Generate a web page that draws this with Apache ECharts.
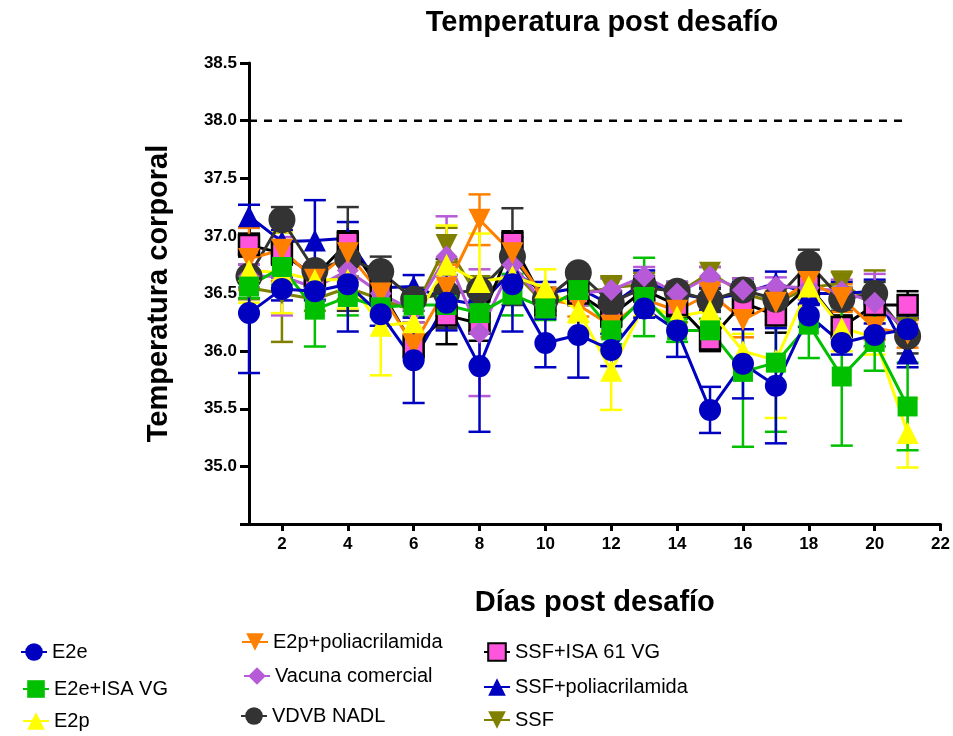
<!DOCTYPE html>
<html>
<head>
<meta charset="utf-8">
<script src="https://cdn.jsdelivr.net/npm/echarts@6/dist/echarts.min.js"></script>
<style>
  html, body { margin: 0; padding: 0; background: #fff; }
  #chart { width: 953px; height: 736px; }
</style>
</head>
<body>
<div id="chart"></div>
<script>
// días post desafío
const days = [1, 2, 3, 4, 5, 6, 7, 8, 9, 10, 11, 12, 13, 14, 15, 16, 17, 18, 19, 20, 21]
const xTicks = [2, 4, 6, 8, 10, 12, 14, 16, 18, 20, 22]

// medias por grupo
const e2e = [36.33, 36.54, 36.52, 36.58, 36.32, 35.92, 36.42, 35.87, 36.58, 36.07, 36.14, 36.01, 36.37, 36.18, 35.49, 35.89, 35.70, 36.31, 36.07, 36.14, 36.19]
const e2eIsa = [36.56, 36.73, 36.36, 36.47, 36.38, 36.40, 36.40, 36.33, 36.49, 36.37, 36.53, 36.18, 36.47, 36.18, 36.18, 35.82, 35.90, 36.23, 35.78, 36.08, 35.52]
const e2p = [36.70, 36.68, 36.62, 36.62, 36.22, 36.25, 36.75, 36.60, 36.65, 36.55, 36.35, 35.83, 36.40, 36.30, 36.35, 36.00, 35.92, 36.56, 36.20, 36.12, 35.29]
const e2pPol = [36.80, 36.88, 36.62, 36.85, 36.50, 36.05, 36.55, 37.14, 36.85, 36.45, 36.40, 36.22, 36.45, 36.35, 36.50, 36.27, 36.42, 36.60, 36.46, 36.20, 36.15]
const vacuna = [36.65, 36.65, 36.55, 36.70, 36.50, 36.35, 36.82, 36.16, 36.75, 36.40, 36.50, 36.53, 36.65, 36.50, 36.65, 36.53, 36.56, 36.55, 36.52, 36.42, 36.18]
const vdvb = [36.65, 37.14, 36.70, 36.80, 36.69, 36.45, 36.50, 36.53, 36.82, 36.45, 36.68, 36.42, 36.55, 36.52, 36.44, 36.53, 36.45, 36.76, 36.45, 36.50, 36.13]
const ssfIsa = [36.92, 36.85, 36.65, 36.94, 36.53, 36.04, 36.31, 36.24, 36.94, 36.40, 36.50, 36.31, 36.53, 36.40, 36.10, 36.42, 36.31, 36.57, 36.21, 36.40, 36.40]
const ssfPol = [37.17, 36.95, 36.96, 36.98, 36.55, 36.56, 36.45, 36.40, 36.70, 36.50, 36.55, 36.40, 36.60, 36.50, 36.45, 36.50, 36.59, 36.50, 36.50, 36.52, 35.98]
const ssf = [36.55, 36.50, 36.45, 36.55, 36.45, 36.35, 36.92, 36.45, 36.70, 36.40, 36.50, 36.55, 36.58, 36.50, 36.68, 36.50, 36.42, 36.55, 36.59, 36.40, 36.20]

// error (EEM) por grupo
const e2eErr = [0.52, 0.10, 0.08, 0.41, 0.10, 0.37, 0.24, 0.57, 0.41, 0.21, 0.37, 0.14, 0.08, 0.23, 0.20, 0.30, 0.50, 0.10, 0.10, 0.10, 0.10]
const e2eIsaErr = [0.10, 0.15, 0.32, 0.16, 0.08, 0.10, 0.10, 0.15, 0.18, 0.10, 0.08, 0.12, 0.34, 0.10, 0.10, 0.65, 0.60, 0.29, 0.60, 0.25, 0.38]
const e2pErr = [0.28, 0.35, 0.10, 0.25, 0.43, 0.15, 0.34, 0.42, 0.10, 0.16, 0.10, 0.34, 0.10, 0.12, 0.10, 0.15, 0.50, 0.10, 0.20, 0.15, 0.30]
const e2pPolErr = [0.27, 0.27, 0.08, 0.10, 0.10, 0.10, 0.20, 0.22, 0.10, 0.10, 0.10, 0.10, 0.08, 0.10, 0.10, 0.15, 0.10, 0.10, 0.12, 0.10, 0.12]
const vacunaErr = [0.10, 0.34, 0.10, 0.10, 0.10, 0.10, 0.35, 0.55, 0.10, 0.10, 0.10, 0.10, 0.08, 0.10, 0.08, 0.10, 0.08, 0.10, 0.10, 0.25, 0.10]
const vdvbErr = [0.10, 0.11, 0.05, 0.45, 0.13, 0.10, 0.30, 0.10, 0.42, 0.10, 0.05, 0.10, 0.10, 0.05, 0.10, 0.10, 0.10, 0.12, 0.10, 0.10, 0.15]
const ssfIsaErr = [0.10, 0.10, 0.10, 0.10, 0.10, 0.10, 0.25, 0.15, 0.10, 0.10, 0.10, 0.10, 0.10, 0.10, 0.10, 0.10, 0.15, 0.10, 0.10, 0.10, 0.12]
const ssfPolErr = [0.10, 0.10, 0.35, 0.14, 0.10, 0.10, 0.10, 0.10, 0.10, 0.10, 0.10, 0.10, 0.10, 0.10, 0.10, 0.10, 0.10, 0.10, 0.10, 0.10, 0.12]
const ssfErr = [0.10, 0.42, 0.10, 0.10, 0.10, 0.10, 0.15, 0.20, 0.10, 0.10, 0.10, 0.10, 0.10, 0.10, 0.05, 0.10, 0.10, 0.10, 0.10, 0.30, 0.10]

const refLine = 38.0

const groups = [
  { name: 'E2e', mean: e2e, err: e2eErr, color: '#0000c0', symbol: 'circle', size: 22 },
  { name: 'E2e+ISA VG', mean: e2eIsa, err: e2eIsaErr, color: '#00c000', symbol: 'rect', size: 20 },
  { name: 'E2p', mean: e2p, err: e2pErr, color: '#ffff00', symbol: 'triangle', size: 22 },
  { name: 'E2p+poliacrilamida', mean: e2pPol, err: e2pPolErr, color: '#ff8000', symbol: 'triangle', size: 22, rotate: 180 },
  { name: 'Vacuna comercial', mean: vacuna, err: vacunaErr, color: '#b65ad8', symbol: 'diamond', size: 22 },
  { name: 'VDVB NADL', mean: vdvb, err: vdvbErr, color: '#333333', symbol: 'circle', size: 27 },
  { name: 'SSF+ISA 61 VG', mean: ssfIsa, err: ssfIsaErr, color: '#ff55dd', line: '#000000', symbol: 'rect', size: 20, border: true },
  { name: 'SSF+poliacrilamida', mean: ssfPol, err: ssfPolErr, color: '#0000c0', symbol: 'triangle', size: 22 },
  { name: 'SSF', mean: ssf, err: ssfErr, color: '#808000', symbol: 'triangle', size: 22, rotate: 180 }
]

// legend item positions (left, top)
const legendPos = [
  [15, 637], [17, 674], [17, 706],
  [236, 627], [238, 661], [235, 701],
  [478, 637], [478, 672], [478, 705]
]

const font = 'Liberation Sans, Arial, sans-serif'

function errRender(color) {
  return function (params, api) {
    const lo = api.coord([api.value(0), api.value(1)])
    const hi = api.coord([api.value(0), api.value(2)])
    const w = 11
    const style = { stroke: color, lineWidth: 2.5, fill: null }
    return {
      type: 'group',
      children: [
        { type: 'line', shape: { x1: lo[0], y1: lo[1], x2: hi[0], y2: hi[1] }, style },
        { type: 'line', shape: { x1: lo[0] - w, y1: lo[1], x2: lo[0] + w, y2: lo[1] }, style },
        { type: 'line', shape: { x1: hi[0] - w, y1: hi[1], x2: hi[0] + w, y2: hi[1] }, style }
      ]
    }
  }
}

const series = [
  {
    name: 'ref',
    type: 'line',
    data: [[1, refLine], [21, refLine]],
    symbol: 'none',
    silent: true,
    lineStyle: { color: '#000', width: 2.5, type: [8, 7] },
    z: 1
  }
]

// draw last groups first so E2e ends on top
groups.slice().reverse().forEach(g => {
  const lineColor = g.line || g.color
  series.push({
    name: g.name + ' err',
    type: 'custom',
    renderItem: errRender(lineColor),
    data: days.map((d, k) => [d, g.mean[k] - g.err[k], g.mean[k] + g.err[k]]),
    silent: true,
    z: 2
  })
  series.push({
    name: g.name,
    type: 'line',
    data: days.map((d, k) => [d, g.mean[k]]),
    symbol: g.symbol,
    symbolSize: g.size,
    symbolRotate: g.rotate || 0,
    lineStyle: { color: lineColor, width: 3 },
    itemStyle: {
      color: g.color,
      borderColor: g.border ? '#000' : g.color,
      borderWidth: g.border ? 2.5 : 0
    },
    z: 2
  })
})

const legends = groups.map((g, i) => ({
  data: [g.name],
  left: legendPos[i][0],
  top: legendPos[i][1],
  orient: 'vertical',
  itemWidth: 26,
  itemHeight: 22,
  itemGap: 0,
  selectedMode: false,
  textStyle: { fontFamily: font, fontSize: 20, color: '#000' }
}))

const chart = echarts.init(document.getElementById('chart'))
chart.setOption({
  animation: false,
  backgroundColor: '#fff',
  title: {
    text: 'Temperatura post desafío',
    left: 597,
    top: 3,
    textAlign: 'center',
    textStyle: { fontFamily: font, fontSize: 29, fontWeight: 'bold', color: '#000' }
  },
  legend: legends,
  grid: { left: 249, right: 12, top: 63, bottom: 212 },
  xAxis: {
    type: 'value',
    min: 1,
    max: 22,
    name: 'Días post desafío',
    nameLocation: 'middle',
    nameGap: 64,
    nameTextStyle: { fontFamily: font, fontSize: 29, fontWeight: 'bold', color: '#000' },
    axisLine: { onZero: false, lineStyle: { color: '#000', width: 3 } },
    axisTick: { customValues: xTicks, length: 7, lineStyle: { color: '#000', width: 3 } },
    axisLabel: { customValues: xTicks, margin: 12, fontFamily: font, fontSize: 17, fontWeight: 'bold', color: '#000' },
    splitLine: { show: false }
  },
  yAxis: {
    type: 'value',
    min: 34.5,
    max: 38.5,
    interval: 0.5,
    name: 'Temperatura corporal',
    nameLocation: 'middle',
    nameGap: 76,
    nameTextStyle: { fontFamily: font, fontSize: 29, fontWeight: 'bold', color: '#000' },
    axisLine: { show: true, onZero: false, lineStyle: { color: '#000', width: 3 } },
    axisTick: { show: true, length: 9, lineStyle: { color: '#000', width: 3 } },
    axisLabel: {
      margin: 12,
      fontFamily: font,
      fontSize: 17,
      fontWeight: 'bold',
      color: '#000',
      formatter: v => (v < 34.9 ? '' : v.toFixed(1))
    },
    splitLine: { show: false }
  },
  series
})
</script>
</body>
</html>
